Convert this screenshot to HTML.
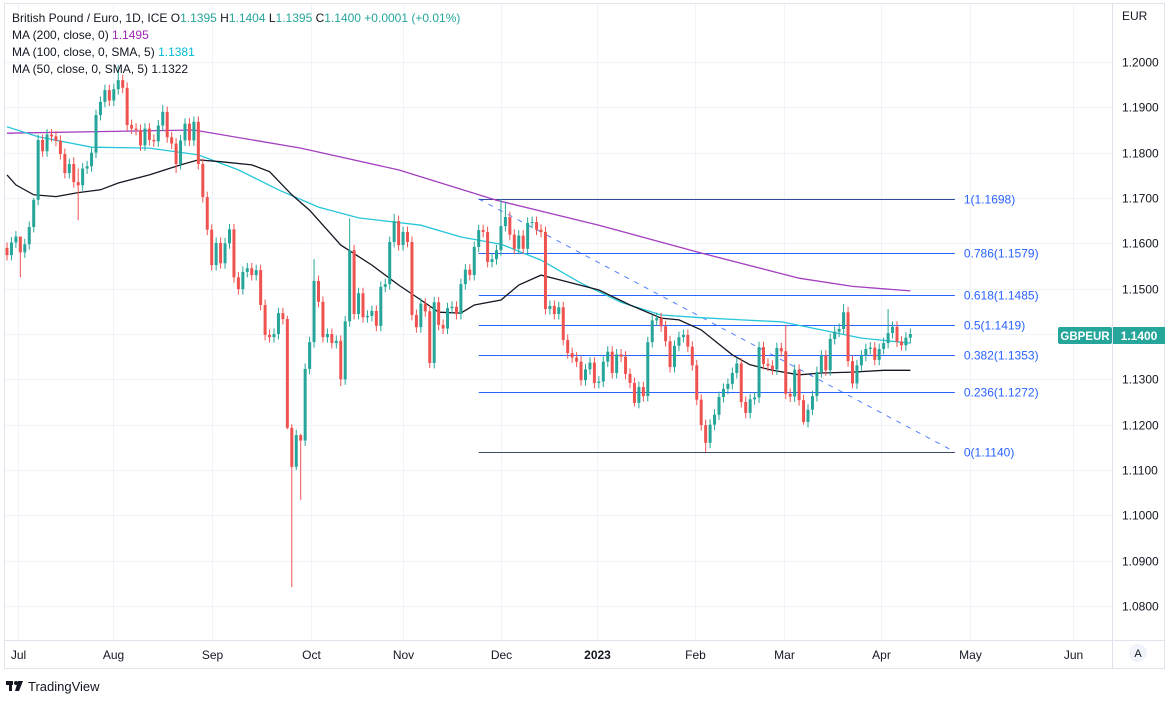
<!DOCTYPE html>
<html><head><meta charset="utf-8"><style>
body{margin:0;background:#fff;font-family:"Liberation Sans",sans-serif;}
svg text{font-family:"Liberation Sans",sans-serif;}
</style></head><body>
<svg id="c" width="1168" height="697" xmlns="http://www.w3.org/2000/svg">
<rect x="0" y="0" width="1168" height="697" fill="#fff"/>
<rect x="4.5" y="3.5" width="1160" height="665" fill="none" stroke="#e0e3eb"/>
<g id="grid"></g>
<g id="fib"></g>
<g id="mas"></g>
<g id="candles"></g>
<line x1="1112.5" y1="4" x2="1112.5" y2="668" stroke="#e0e3eb"/>
<line x1="5" y1="640.5" x2="1164" y2="640.5" stroke="#e0e3eb"/>
<g id="yaxis"></g>
<g id="xaxis"></g>
<text x="1122" y="20" font-size="12" fill="#131722">EUR</text>
<g><rect x="1058" y="327" width="54" height="17" fill="#26a69a" rx="2"/><text x="1085" y="340" font-size="11.5" fill="#fff" font-weight="bold" text-anchor="middle">GBPEUR</text></g>
<g><rect x="1113" y="327" width="52" height="17" fill="#26a69a"/><text x="1139" y="340" font-size="12" fill="#fff" font-weight="bold" text-anchor="middle">1.1400</text></g>
<g><circle cx="1138" cy="653" r="9" fill="#f0f3fa"/><text x="1138" y="657" font-size="11" fill="#131722" text-anchor="middle">A</text></g>
<g font-size="12">
<text x="12" y="22" fill="#131722">British Pound / Euro, 1D, ICE <tspan fill="#131722">O</tspan><tspan fill="#26a69a">1.1395</tspan> <tspan fill="#131722">H</tspan><tspan fill="#26a69a">1.1404</tspan> <tspan fill="#131722">L</tspan><tspan fill="#26a69a">1.1395</tspan> <tspan fill="#131722">C</tspan><tspan fill="#26a69a">1.1400 +0.0001 (+0.01%)</tspan></text>
<text x="12" y="39" fill="#131722">MA (200, close, 0)  <tspan fill="#9c27b0">1.1495</tspan></text>
<text x="12" y="56" fill="#131722">MA (100, close, 0, SMA, 5)  <tspan fill="#00bcd4">1.1381</tspan></text>
<text x="12" y="73" fill="#131722">MA (50, close, 0, SMA, 5)  <tspan fill="#131722">1.1322</tspan></text>
</g>
<g><rect x="6" y="681" width="7" height="4" fill="#131722"/><rect x="9" y="681" width="3" height="10" fill="#131722"/><circle cx="16" cy="683" r="2" fill="#131722"/><path d="M18 681 L23 681 L19 691 L15 691 Z" fill="#131722"/><text x="28" y="691" font-size="13" fill="#131722">TradingView</text></g>
</svg>
<script>
const closes=[1.1574,1.1602,1.1615,1.1580,1.1598,1.1636,1.1696,1.1828,1.1803,1.1840,1.1836,1.1826,1.1797,1.1755,1.1775,1.1735,1.1728,1.1765,1.1770,1.1800,1.1883,1.1912,1.1938,1.1915,1.1940,1.1960,1.1943,1.1861,1.1853,1.1850,1.1816,1.1853,1.1828,1.1825,1.1860,1.1890,1.1834,1.1820,1.1775,1.1827,1.1864,1.1827,1.1868,1.1775,1.1702,1.1630,1.1552,1.1601,1.1556,1.1600,1.1631,1.1525,1.1499,1.1537,1.1545,1.1530,1.1541,1.1464,1.1398,1.1393,1.1400,1.1446,1.1433,1.1193,1.1107,1.1177,1.1165,1.1323,1.1382,1.1517,1.1471,1.1393,1.1400,1.1380,1.1385,1.1300,1.1428,1.1585,1.1444,1.1490,1.1437,1.1440,1.1451,1.1418,1.1504,1.1510,1.1603,1.1649,1.1596,1.1625,1.1603,1.1442,1.1415,1.1467,1.1450,1.1336,1.1470,1.1420,1.1412,1.1457,1.1460,1.1444,1.1510,1.1542,1.1530,1.1592,1.1629,1.1625,1.1559,1.1565,1.1585,1.1638,1.1658,1.1619,1.1588,1.1617,1.1588,1.1645,1.1647,1.1630,1.1625,1.1455,1.1462,1.1444,1.1459,1.1387,1.1358,1.1348,1.1339,1.1298,1.1322,1.1337,1.1292,1.1295,1.1339,1.1361,1.1314,1.1355,1.1350,1.1312,1.1292,1.1248,1.1283,1.1263,1.1382,1.1430,1.1435,1.1417,1.1384,1.1327,1.1374,1.1393,1.1398,1.1372,1.1331,1.1255,1.1199,1.1160,1.1200,1.1222,1.1261,1.1279,1.1290,1.1314,1.1335,1.1250,1.1226,1.1256,1.1260,1.1371,1.1334,1.1330,1.1322,1.1369,1.1362,1.1268,1.1262,1.1321,1.1254,1.1206,1.1233,1.1263,1.1316,1.1352,1.1320,1.1389,1.1405,1.1411,1.1448,1.1340,1.1291,1.1331,1.1352,1.1367,1.1370,1.1343,1.1367,1.1380,1.1402,1.1416,1.1383,1.1375,1.1392,1.1400];
const firstOpen=1.1590;
const highWicks={3:1.1600,6:1.1700,15:1.1790,16:1.1765,25:1.1993,35:1.1905,63:1.1440,64:1.1201,66:1.1180,69:1.1565,77:1.1655,87:1.1665,111:1.1698,112:1.1690,175:1.1420,188:1.1466,198:1.1455};
const lowWicks={3:1.1525,16:1.1651,38:1.1755,63:1.1190,64:1.0842,65:1.1100,66:1.1034,75:1.1285,95:1.1325,141:1.1240,157:1.1140,179:1.1200,190:1.1280};
const maIdx200=[0,42,66,88,110,133,155,178,190,203];
const ma200=[1.1843,1.1850,1.1810,1.1762,1.1695,1.1640,1.1581,1.1523,1.1505,1.1495];
const maIdx100=[0,7,19,32,43,52,61,70,79,93,102,111,120,129,138,147,156,165,174,183,192,203];
const ma100=[1.1857,1.1835,1.1812,1.1810,1.1795,1.1762,1.1718,1.1680,1.1656,1.1640,1.1614,1.1598,1.1563,1.1512,1.1470,1.1442,1.1436,1.1431,1.1427,1.1409,1.1391,1.1380];
const maIdx50=[0,2,6,11,16,21,25,32,39,43,48,55,59,64,68,75,82,88,93,97,102,105,111,115,120,124,133,140,147,151,156,163,167,172,178,183,190,197,203];
const ma50=[1.1751,1.1729,1.1707,1.1703,1.1712,1.1718,1.1733,1.1751,1.1773,1.1784,1.1780,1.1773,1.1758,1.1707,1.1673,1.1596,1.1552,1.1508,1.1475,1.1448,1.1446,1.1464,1.1475,1.1508,1.1530,1.1520,1.1497,1.1464,1.1435,1.1431,1.1409,1.1354,1.1332,1.1320,1.1310,1.1314,1.1316,1.1320,1.1320];
const fibLevels=[1.1698,1.1579,1.1485,1.1419,1.1353,1.1272,1.1140];
const fibNames=["1","0.786","0.618","0.5","0.382","0.236","0"];
const yTicks=[1.2000,1.1900,1.1800,1.1700,1.1600,1.1500,1.1400,1.1300,1.1200,1.1100,1.1000,1.0900,1.0800];
const months=["Jul","Aug","Sep","Oct","Nov","Dec","2023","Feb","Mar","Apr","May","Jun"];
const monthBar=[2.5,23.8,46.1,68.3,89,111,132.5,154.5,174.5,196.5,216.5,239.5];
const fibStartBar=106,fibEndBar=213;

const NS="http://www.w3.org/2000/svg";
const X=i=>7+i*4.45;
const Y=p=>62+(1.2-p)*4533.33;
function mk(tag,attrs,parent){const e=document.createElementNS(NS,tag);for(const k in attrs)e.setAttribute(k,attrs[k]);parent.appendChild(e);return e;}
const grid=document.getElementById('grid'),ya=document.getElementById('yaxis'),xa=document.getElementById('xaxis');
yTicks.forEach(t=>{const y=Math.round(Y(t))+0.5;
 const l=mk('line',{x1:5,x2:1112,y1:y,y2:y,stroke:'#f0f3fa'},grid);
 
 
 const tx=mk('text',{x:1122,y:y+4,'font-size':12,fill:'#131722'},ya);tx.textContent=t.toFixed(4);
 
 
});
months.forEach((m,k)=>{const x=Math.round(X(monthBar[k]))+0.5;
 const l=mk('line',{x1:x,x2:x,y1:4,y2:640,stroke:'#f0f3fa'},grid);
 
 
 const tx=mk('text',{x:x,y:659,'font-size':12,fill:'#131722','text-anchor':'middle','font-weight':m==='2023'?'bold':'normal'},xa);tx.textContent=m;
 
 
});
const fib=document.getElementById('fib');
const x1=X(fibStartBar),x2=X(fibEndBar);
fibLevels.forEach((p,k)=>{const y=Math.round(Y(p))+0.5;
 const l=mk('line',{x1:x1,x2:x2,y1:y,y2:y,stroke:k===6?'#3d4766':(k===0?'#34499a':'#2962ff'),'stroke-width':1},fib);
 
 
 const tx=mk('text',{x:x2+9,y:y+4,'font-size':12,fill:'#2962ff'},fib);tx.textContent=fibNames[k]+"("+p.toFixed(4)+")";
 
 
});
const tl=mk('line',{x1:x1,y1:Y(fibLevels[0]),x2:x2,y2:Y(fibLevels[6]),stroke:'#2962ff','stroke-dasharray':'5,6','stroke-width':1,opacity:0.8},fib);


const mas=document.getElementById('mas');
function maLine(idx,vals,color,name){const pts=idx.map((i,k)=>X(i).toFixed(1)+","+Y(vals[k]).toFixed(1)).join(" ");
 const pl=mk('polyline',{points:pts,fill:'none',stroke:color,'stroke-width':1.3},mas);
 
 }
maLine(maIdx200,ma200,'#a33fbf','ma200-line');
maLine(maIdx100,ma100,'#26c6da','ma100-line');
maLine(maIdx50,ma50,'#131722','ma50-line');
const cg=document.getElementById('candles');
closes.forEach((c,i)=>{const o=i===0?firstOpen:closes[i-1];
 const up=c>=o;const col=up?'#26a69a':'#ef5350';
 const hi=highWicks[i]!==undefined?highWicks[i]:Math.max(o,c)+0.0012;
 const lo=lowWicks[i]!==undefined?lowWicks[i]:Math.min(o,c)-0.0012;
 const x=X(i);const g=mk('g',{},cg);
 
 
 mk('line',{x1:x,x2:x,y1:Y(hi),y2:Y(lo),stroke:col,'stroke-width':1},g);
 const yt=Y(Math.max(o,c)),yb=Y(Math.min(o,c));
 mk('rect',{x:x-1.5,y:yt,width:3,height:Math.max(1,yb-yt),fill:col},g);
});
</script>
</body></html>
